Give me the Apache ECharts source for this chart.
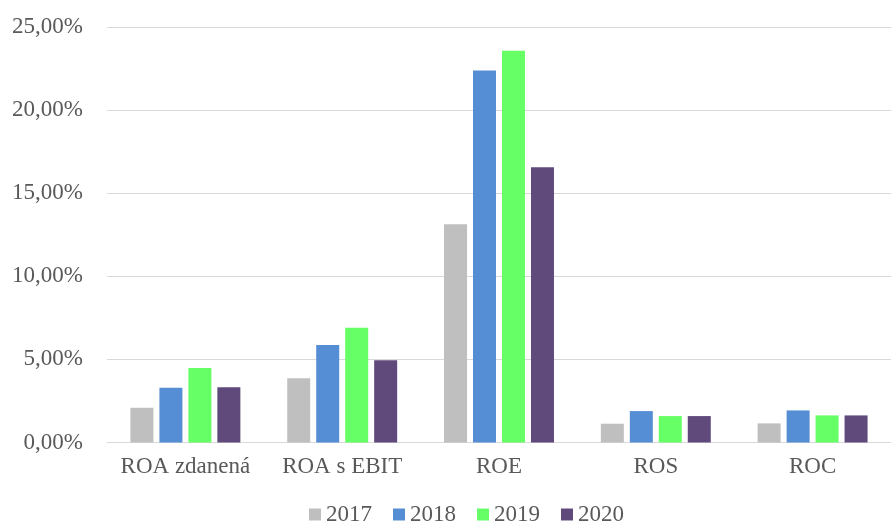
<!DOCTYPE html>
<html>
<head>
<meta charset="utf-8">
<script src="https://cdn.jsdelivr.net/npm/echarts@6/dist/echarts.min.js"></script>
<style>
  html, body { margin: 0; padding: 0; background: #ffffff; }
  #chart { width: 891px; height: 531px; }
</style>
</head>
<body>
<div id="chart"></div>
<script>
// Ukazovatele rentability (v %)
var categories = ['ROA zdanená', 'ROA s EBIT', 'ROE', 'ROS', 'ROC'];
var years = ['2017', '2018', '2019', '2020'];
var values2017 = [2.09, 3.86, 13.13, 1.13, 1.15];
var values2018 = [3.29, 5.86, 22.39, 1.89, 1.93];
var values2019 = [4.49, 6.90, 23.57, 1.59, 1.63];
var values2020 = [3.32, 4.95, 16.56, 1.59, 1.63];
var yTicks = [0, 5, 10, 15, 20, 25];

var colors = ['#BFBFBF', '#558ED5', '#66FF66', '#604A7B'];
var seriesValues = [values2017, values2018, values2019, values2020];

var fontFamily = '"Liberation Serif", "Times New Roman", serif';
var textColor = '#595959';

function pct(v) {
  return v.toFixed(2).replace('.', ',') + '%';
}

var chart = echarts.init(document.getElementById('chart'), null, { renderer: 'canvas' });

chart.setOption({
  animation: false,
  backgroundColor: '#ffffff',
  color: colors,
  grid: { left: 107, right: 0, top: 27, bottom: 88.5, containLabel: false },
  legend: {
    data: years,
    left: 304,
    bottom: 0,
    itemWidth: 12,
    itemHeight: 12,
    itemGap: 21,
    icon: 'rect',
    textStyle: { fontFamily: fontFamily, fontSize: 23, color: textColor }
  },
  xAxis: {
    type: 'category',
    data: categories,
    axisLine: { show: true, lineStyle: { color: '#D9D9D9', width: 1 } },
    axisTick: { show: false },
    axisLabel: { interval: 0, fontFamily: fontFamily, fontSize: 23, color: textColor, margin: 13 }
  },
  yAxis: {
    type: 'value',
    min: yTicks[0],
    max: yTicks[yTicks.length - 1],
    interval: yTicks[1] - yTicks[0],
    axisLine: { show: false },
    axisTick: { show: false },
    splitLine: { lineStyle: { color: '#D9D9D9', width: 1 } },
    axisLabel: {
      fontFamily: fontFamily, fontSize: 23, color: textColor, margin: 24,
      formatter: function (v) { return pct(v); }
    }
  },
  series: years.map(function (y, i) {
    return {
      name: y,
      type: 'bar',
      data: seriesValues[i],
      barWidth: 23,
      barGap: '26%',
      itemStyle: { color: colors[i] }
    };
  })
});
</script>
</body>
</html>
